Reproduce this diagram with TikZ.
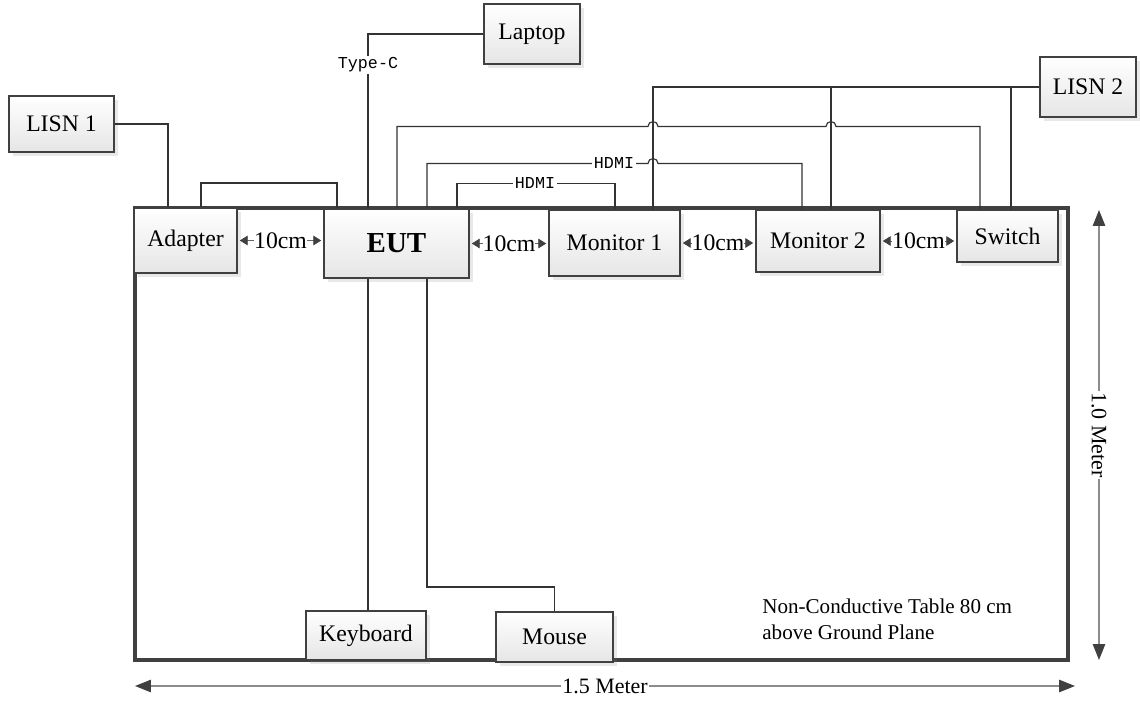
\documentclass[tikz,border=0pt]{standalone}
\usepackage{fontspec}
\setmainfont{Liberation Serif}
\newfontfamily\tagfont{Liberation Mono}
\usetikzlibrary{arrows.meta, shadows}
\tikzset{
  box/.style = {draw=black!75, line width=1.2pt, top color=white,
    bottom color=black!10, inner sep=0pt, text centered,
    drop shadow={shadow xshift=2pt, shadow yshift=-2pt, opacity=0.18},
    font=\fontsize{13.5}{16}\selectfont},
  desk/.style = {draw=black!75, line width=2pt},
  wire/.style = {draw=black!80, line width=0.65pt},
  tag/.style = {fill=white, inner sep=1pt,
    font=\tagfont\fontsize{9.5}{10}\selectfont},
  gap/.style = {draw=black!60, line width=0.5pt,
    {Triangle[length=4.5pt,width=5.5pt,color=black!75]}-{Triangle[length=4.5pt,width=5.5pt,color=black!75]},
    shorten <=1pt, shorten >=1pt},
  gaptext/.style = {fill=white, inner sep=0pt,
    font=\fontsize{13.5}{16}\selectfont},
  dim/.style = {draw=black!45, line width=0.8pt,
    {Triangle[length=9pt,width=7pt,color=black!75]}-{Triangle[length=9pt,width=7pt,color=black!75]}},
  dimtext/.style = {fill=white, inner sep=1pt,
    font=\fontsize{12.5}{15}\selectfont}
}

\begin{document}
\begin{tikzpicture}[x=0.02cm, y=-0.02cm]
\useasboundingbox (0,0) rectangle (1140,703);

% table
\node [desk, minimum width=18.66cm, minimum height=9.04cm] (table) at (601.5,434) {};

% units
\node [box, minimum width=2.10cm, minimum height=1.12cm] (lisn1) at (61.5,124) {LISN 1};
\node [box, minimum width=1.92cm, minimum height=1.20cm] (laptop) at (532,34) {Laptop};
\node [box, minimum width=1.92cm, minimum height=1.20cm] (lisn2) at (1088,87) {LISN 2};
\node [box, minimum width=2.06cm, minimum height=1.30cm] (adapter) at (185.5,240.5) {Adapter};
\node [box, minimum width=2.90cm, minimum height=1.38cm,
  font=\fontsize{16.5}{18}\selectfont\bfseries] (eut) at (396.5,243.5) {EUT};
\node [box, minimum width=2.62cm, minimum height=1.32cm] (mon1) at (614.5,243) {Monitor 1};
\node [box, minimum width=2.48cm, minimum height=1.24cm] (mon2) at (818,241) {Monitor 2};
\node [box, minimum width=2.02cm, minimum height=1.04cm] (switch) at (1007.5,236) {Switch};
\node [box, minimum width=2.40cm, minimum height=0.98cm] (keyboard) at (366,635.5) {Keyboard};
\node [box, minimum width=2.34cm, minimum height=1.00cm] (mouse) at (554.5,637) {Mouse};

% cables
\draw [wire] (lisn1.east) -| (168,0 |- adapter.north);
\draw [wire] (201,0 |- adapter.north) -- ++(0,-24) -| (337,0 |- eut.north);
\draw [wire] (laptop.west) -| (368,0 |- eut.north);
\node [tag] (typec) at (368,65) {Type-C};
\draw [wire] (397,0 |- eut.north) |- (648,126.5)
  arc [start angle=180, end angle=0, radius=0.1cm] -- (826,126.5)
  arc [start angle=180, end angle=0, radius=0.1cm] -| (980,0 |- switch.north);
\draw [wire] (427,0 |- eut.north) |- (648,163.5)
  arc [start angle=180, end angle=0, radius=0.1cm] -| (802,0 |- mon2.north);
\node [tag] (hdmi2) at (614,163.5) {HDMI};
\draw [wire] (457,0 |- eut.north) |- (615,183.5) -- (615,0 |- mon1.north);
\node [tag] (hdmi1) at (535,183.5) {HDMI};
\draw [wire] (lisn2.west) -- (653,0 |- lisn2.west) -- (653,0 |- mon1.north);
\draw [wire] (831,0 |- lisn2.west) -- (831,0 |- mon2.north);
\draw [wire] (1011,0 |- lisn2.west) -- (1011,0 |- switch.north);
\draw [wire] (368,0 |- eut.south) -- (368,0 |- keyboard.north);
\draw [wire] (427,0 |- eut.south) |- (554.5,587) -- (mouse.north);

% spacing
\draw [gap] (adapter.east) -- node [gaptext] {10cm} (adapter.east -| eut.west);
\draw [gap] (eut.east) -- node [gaptext] {10cm} (eut.east -| mon1.west);
\draw [gap] (mon1.east) -- node [gaptext] {10cm} (mon1.east -| mon2.west);
\draw [gap] (mon2.east) -- node [gaptext] {10cm} (mon2.east -| switch.west);

% dimensions
\coordinate (wl) at (135,686);
\coordinate (wr) at (1075,686);
\draw [dim] (wl) -- node [dimtext] {1.5 Meter} (wr);
\coordinate (ht) at (1099,210);
\coordinate (hb) at (1099,660);
\draw [dim] (ht) -- node [dimtext, rotate=-90] {1.0 Meter} (hb);

\node [align=left, anchor=north west, inner sep=0pt,
  font=\fontsize{12}{14.8}\selectfont] (note) at (762,599)
  {Non-Conductive Table 80 cm\\above Ground Plane};
\end{tikzpicture}
\end{document}
